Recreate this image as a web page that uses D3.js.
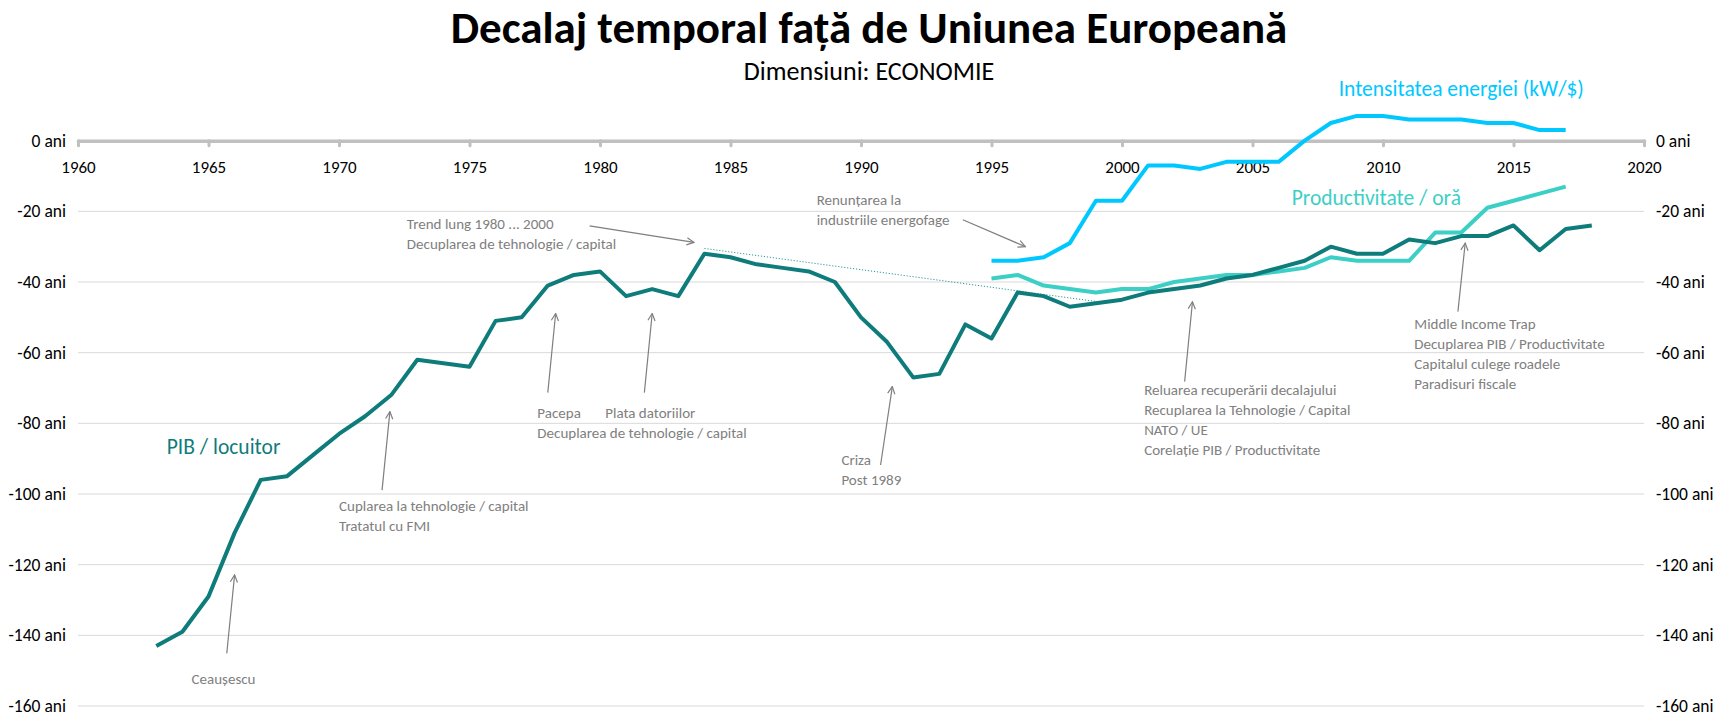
<!DOCTYPE html>
<html>
<head>
<meta charset="utf-8">
<script src="https://cdn.jsdelivr.net/npm/d3@7"></script>
<style>
  body { margin: 0; background: #fff; }
  svg text { font-family: Carlito, Lato, "Open Sans", sans-serif; }
</style>
</head>
<body>
<svg id="chart" width="1724" height="716"></svg>
<script>
// PIB / locuitor
var pibYears = [1963,1964,1965,1966,1967,1968,1969,1970,1971,1972,1973,1974,1975,1976,1977,1978,1979,1980,
                1981,1982,1983,1984,1985,1986,1987,1988,1989,1990,1991,1992,1993,1994,1995,1996,1997,1998,
                1999,2000,2001,2002,2003,2004,2005,2006,2007,2008,2009,2010,2011,2012,2013,2014,2015,2016,2017,2018];
var pibValues = [-143,-139,-129,-111,-96,-95,-89,-83,-78,-72,-62,-63,-64,-51,-50,-41,-38,-37,
                 -44,-42,-44,-32,-33,-35,-36,-37,-40,-50,-57,-67,-66,-52,-56,-43,-44,-47,
                 -46,-45,-43,-42,-41,-39,-38,-36,-34,-30,-32,-32,-28,-29,-27,-27,-24,-31,-25,-24];

// Productivitate / ora si intensitatea energiei
var lateYears = [1995,1996,1997,1998,1999,2000,2001,2002,2003,2004,2005,2006,2007,2008,2009,2010,2011,2012,2013,2014,2015,2016,2017];
var prodValues = [-39,-38,-41,-42,-43,-42,-42,-40,-39,-38,-38,-37,-36,-33,-34,-34,-34,-26,-26,-19,-17,-15,-13];
var energyValues = [-34,-34,-33,-29,-17,-17,-7,-7,-8,-6,-6,-6,0,5,7,7,6,6,6,5,5,3,3];

// trend lung 1980 ... 2000
var trendYears = [1984, 1999];
var trendValues = [-30.5, -45.5];

var yearTicks = [1960,1965,1970,1975,1980,1985,1990,1995,2000,2005,2010,2015,2020];
var valueTicks = [0,-20,-40,-60,-80,-100,-120,-140,-160];

var seriesLabels = [
  {text: "PIB / locuitor", year: 1963.4, value: -86.6, color: "#0e7c7b"},
  {text: "Productivitate / oră", year: 2006.5, value: -16.2, color: "#3ccfc6"},
  {text: "Intensitatea energiei (kW/$)", year: 2008.3, value: 14.8, color: "#00c8ff"}
];

var notes = [
  {lines: ["Trend lung 1980 ... 2000", "Decuplarea de tehnologie / capital"], year: 1972.6, value: -23.4,
   from: [1979.6, -24.1], to: [1983.6, -28.8]},
  {lines: ["Pacepa", "Decuplarea de tehnologie / capital"], year: 1977.6, value: -77.0,
   from: [1978.0, -71.3], to: [1978.3, -48.9]},
  {lines: ["Plata datoriilor"], year: 1980.2, value: -77.0,
   from: [1981.7, -71.3], to: [1982.0, -48.9]},
  {lines: ["Cuplarea la tehnologie / capital", "Tratatul cu FMI"], year: 1970.0, value: -103.2,
   from: [1971.65, -98.9], to: [1971.95, -76.7]},
  {lines: ["Ceaușescu"], year: 1964.35, value: -152.4,
   from: [1965.7, -145.1], to: [1966.0, -122.9]},
  {lines: ["Renunțarea la", "industriile energofage"], year: 1988.3, value: -16.6,
   from: [1993.9, -22.4], to: [1996.3, -30.0]},
  {lines: ["Criza", "Post 1989"], year: 1989.25, value: -90.2,
   from: [1990.75, -91.8], to: [1991.2, -69.6]},
  {lines: ["Reluarea recuperării decalajului", "Recuplarea la Tehnologie / Capital", "NATO / UE", "Corelație PIB / Productivitate"],
   year: 2000.85, value: -70.6, from: [2002.4, -68.2], to: [2002.7, -45.6]},
  {lines: ["Middle Income Trap", "Decuplarea PIB / Productivitate", "Capitalul culege roadele", "Paradisuri fiscale"],
   year: 2011.2, value: -51.7, from: [2012.87, -48.4], to: [2013.15, -29.0]}
];

var svg = d3.select("#chart"),
    width = +svg.attr("width"),
    height = +svg.attr("height");

var x = d3.scaleLinear().domain([1960, 2020]).range([78, 1644]);
var y = d3.scaleLinear().domain([-160, 20]).range([706, 70]);

// titlu
svg.append("text")
    .attr("x", 869).attr("y", 27).attr("dy", "0.35em")
    .attr("text-anchor", "middle")
    .style("font-size", "45px").style("font-weight", "bold").style("fill", "#000")
    .text("Decalaj temporal față de Uniunea Europeană");
svg.append("text")
    .attr("x", 869).attr("y", 71).attr("dy", "0.35em")
    .attr("text-anchor", "middle")
    .style("font-size", "26px").style("fill", "#000")
    .text("Dimensiuni: ECONOMIE");

// grid
svg.append("g").selectAll("line")
    .data(valueTicks.filter(function(d) { return d !== 0; }))
  .enter().append("line")
    .attr("x1", x(1960)).attr("x2", x(2020))
    .attr("y1", function(d) { return y(d); })
    .attr("y2", function(d) { return y(d); })
    .attr("stroke", "#d9d9d9").attr("stroke-width", 1);

var fmt = function(d) { return d + " ani"; };

var left = svg.append("g")
    .attr("transform", "translate(" + (x(1960) - 12) + ",0)")
    .call(d3.axisLeft(y).tickValues(valueTicks).tickFormat(fmt).tickSize(0).tickPadding(0));
var right = svg.append("g")
    .attr("transform", "translate(" + (x(2020) + 12) + ",0)")
    .call(d3.axisRight(y).tickValues(valueTicks).tickFormat(fmt).tickSize(0).tickPadding(0));
[left, right].forEach(function(g) {
  g.select(".domain").remove();
  g.selectAll("text").style("font-size", "17.5px").style("fill", "#000")
      .style("font-family", "Carlito, Lato, sans-serif");
});

// axa 0 ani
var xAxis = svg.append("g")
    .attr("transform", "translate(0," + y(0) + ")")
    .call(d3.axisBottom(x).tickValues(yearTicks).tickFormat(d3.format("d")).tickSize(5).tickSizeOuter(0));
xAxis.select(".domain").attr("stroke", "#c0c0c0").attr("stroke-width", 3.5).attr("stroke-linecap", "round");
xAxis.selectAll(".tick line").attr("stroke", "#c0c0c0").attr("stroke-width", 3).attr("stroke-linecap", "round");
xAxis.selectAll(".tick text").attr("y", 26).attr("dy", "0.35em")
    .style("font-size", "17px").style("fill", "#000")
    .style("font-family", "Carlito, Lato, sans-serif");

// trend
svg.append("path")
    .datum(trendYears.map(function(d, i) { return [d, trendValues[i]]; }))
    .attr("fill", "none").attr("stroke", "#2a9a96").attr("stroke-width", 1)
    .attr("stroke-dasharray", "1.2,1.8")
    .attr("d", d3.line().x(function(d) { return x(d[0]); }).y(function(d) { return y(d[1]); }));

var line = d3.line()
    .x(function(d) { return x(d[0]); })
    .y(function(d) { return y(d[1]); });

function draw(years, values, color) {
  svg.append("path")
      .datum(years.map(function(d, i) { return [d, values[i]]; }))
      .attr("fill", "none").attr("stroke", color).attr("stroke-width", 4)
      .attr("stroke-linejoin", "round")
      .attr("d", line);
}
draw(lateYears, prodValues, "#3ccfc6");
draw(pibYears, pibValues, "#0e7c7b");
draw(lateYears, energyValues, "#00c8ff");

// etichete serii
svg.append("g").selectAll("text")
    .data(seriesLabels)
  .enter().append("text")
    .attr("x", function(d) { return x(d.year); })
    .attr("y", function(d) { return y(d.value); })
    .attr("dy", "0.35em")
    .style("font-size", "21.5px")
    .style("fill", function(d) { return d.color; })
    .text(function(d) { return d.text; });

// adnotari
svg.append("defs").append("marker")
    .attr("id", "arrow")
    .attr("viewBox", "0 0 10 10").attr("refX", 9).attr("refY", 5)
    .attr("markerWidth", 9).attr("markerHeight", 9)
    .attr("markerUnits", "userSpaceOnUse")
    .attr("orient", "auto")
  .append("path")
    .attr("d", "M1,1 L9,5 L1,9")
    .attr("fill", "none").attr("stroke", "#7f7f7f").attr("stroke-width", 1.3);

var note = svg.append("g").selectAll("g")
    .data(notes)
  .enter().append("g");

note.append("line")
    .attr("x1", function(d) { return x(d.from[0]); })
    .attr("y1", function(d) { return y(d.from[1]); })
    .attr("x2", function(d) { return x(d.to[0]); })
    .attr("y2", function(d) { return y(d.to[1]); })
    .attr("stroke", "#7f7f7f").attr("stroke-width", 1.2)
    .attr("marker-end", "url(#arrow)");

note.each(function(d) {
  var t = d3.select(this).append("text")
      .attr("x", x(d.year))
      .attr("y", y(d.value))
      .style("font-size", "15px").style("fill", "#808080");
  d.lines.forEach(function(s, i) {
    t.append("tspan").attr("x", x(d.year)).attr("y", y(d.value) + i * 20)
        .attr("dy", "0.35em").text(s);
  });
});
</script>
</body>
</html>
